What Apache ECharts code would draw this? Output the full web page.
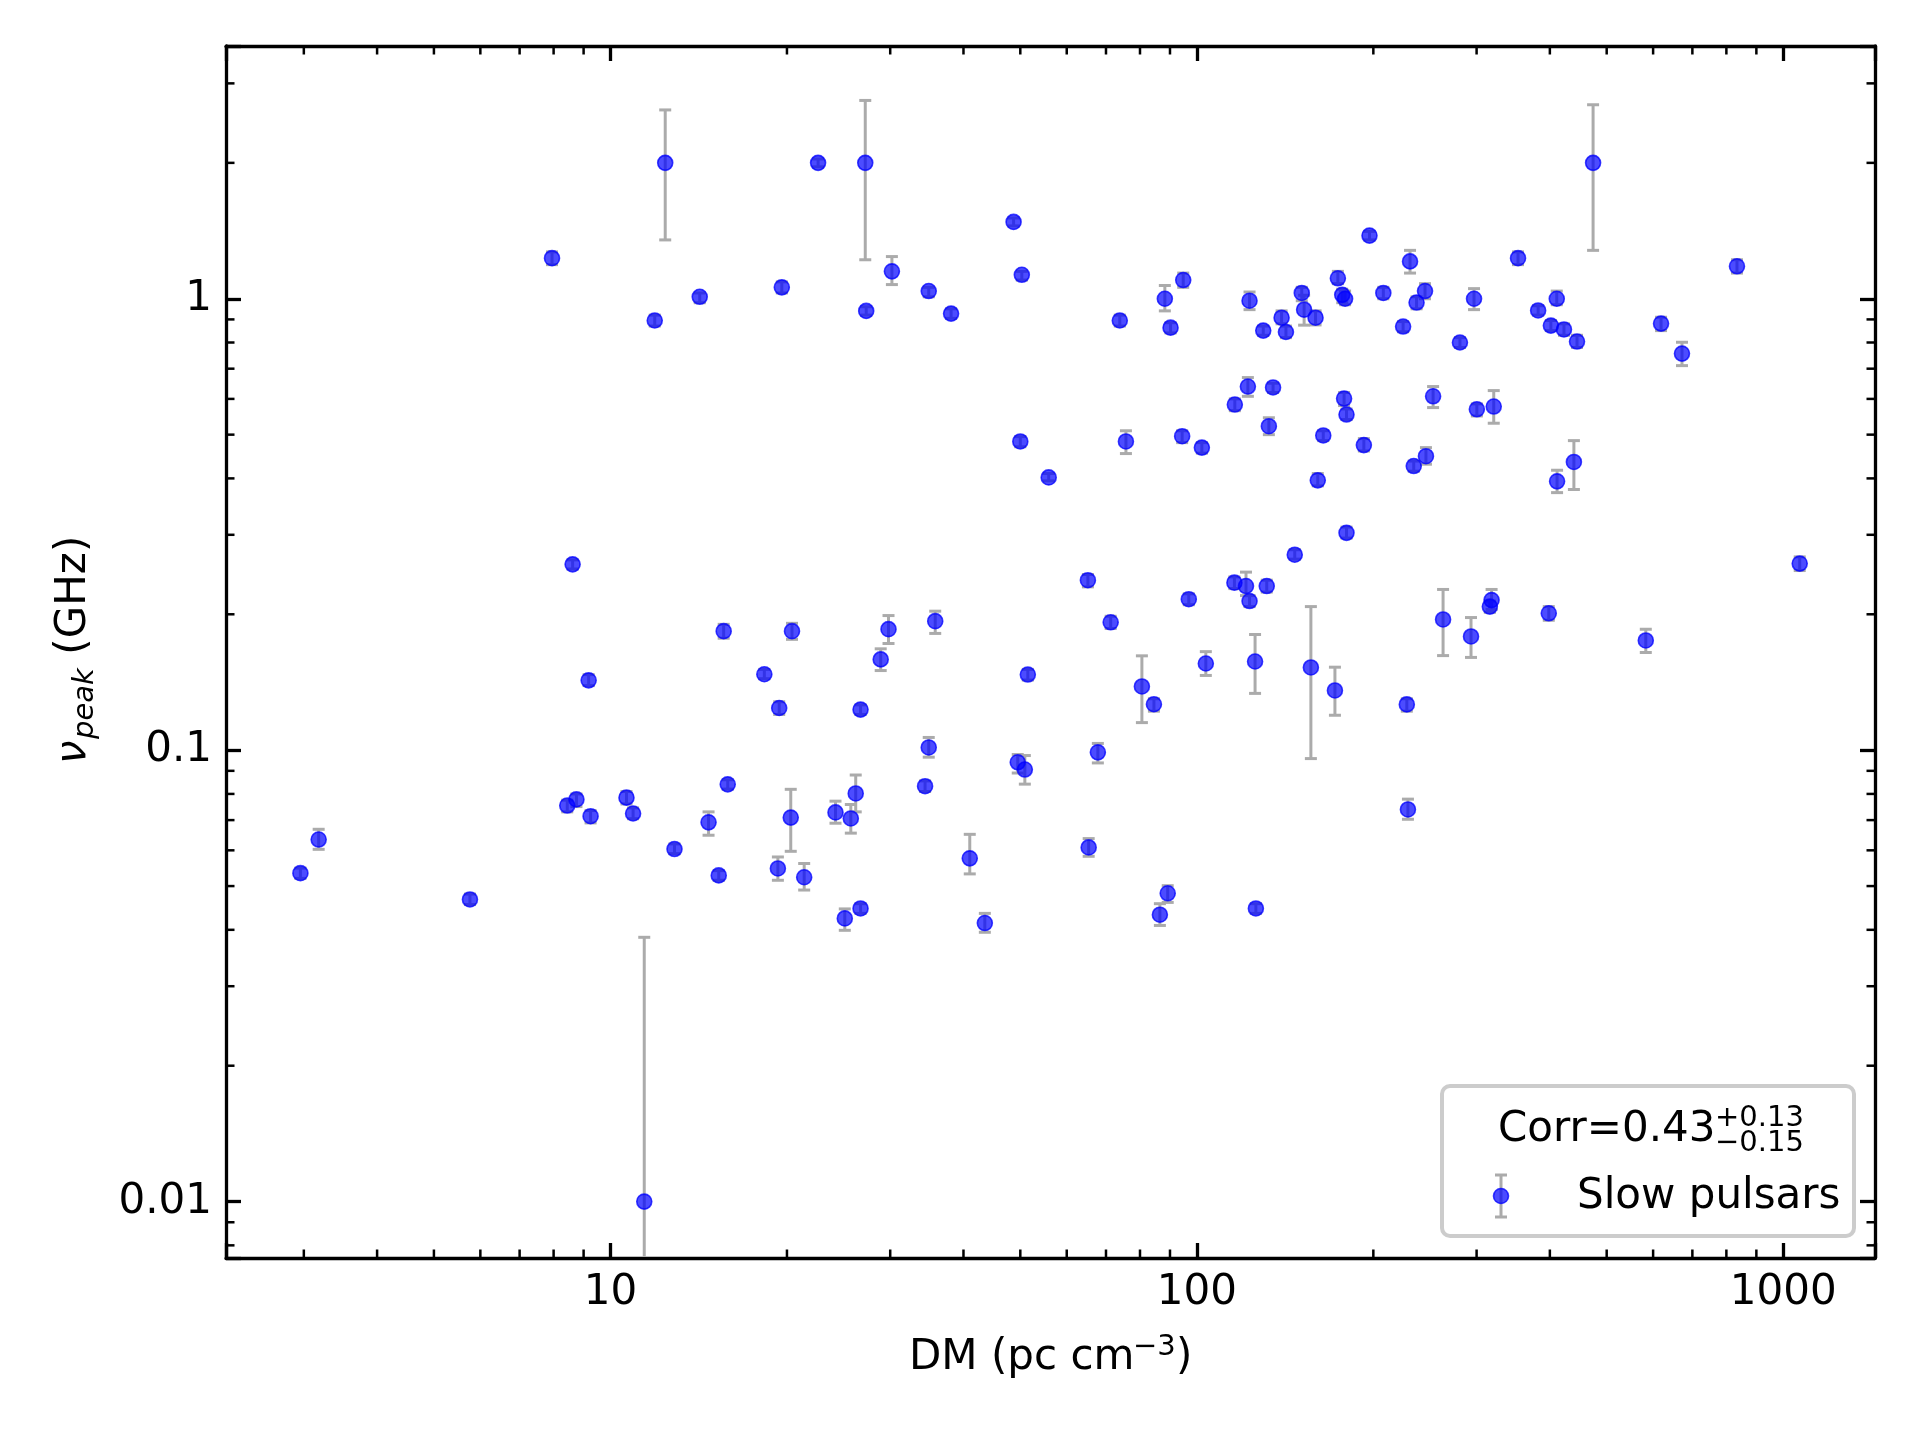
<!DOCTYPE html>
<html>
<head>
<meta charset="utf-8">
<script src="https://cdn.jsdelivr.net/npm/echarts@6/dist/echarts.min.js"></script>
<style>
html, body { margin: 0; background: #fff; }
#main { width: 1920px; height: 1440px; }
</style>
</head>
<body>
<div id="main"></div>
<script>
// DM (pc cm^-3) of each pulsar
var dm = [12.4, 22.6, 27.2, 474, 48.7, 197, 7.95, 353, 231, 834,
          30.2, 50.3, 94.8, 174, 34.9, 19.6, 151, 208, 245, 14.2,
          88.2, 123, 177, 179, 297, 411, 27.3, 382, 237, 38.1,
          11.9, 73.9, 139.5, 159.4, 619, 90.2, 129.8, 141.9, 152.4, 224.8,
          401.6, 422.8, 445, 281, 672, 122.2, 134.9, 116.1, 178.3, 252.9,
          300.3, 320.9, 180, 132.7, 164.3, 50.0, 75.7, 94.4, 102.0, 192.7,
          245.9, 234.4, 439.6, 411.5, 55.9, 160.8, 180, 146.9, 8.62, 1067,
          65.2, 115.9, 121.3, 131.6, 123, 96.9, 318.2, 316, 398.3, 71.3,
          15.6, 20.4, 29.8, 35.8, 263, 293.5, 583, 28.9, 103.6, 125.7,
          156.5, 9.18, 18.3, 51.5, 80.6, 172, 84.5, 19.4, 26.7, 228.1,
          34.9, 49.5, 50.9, 67.8, 34.4, 15.85, 26.2, 8.75, 8.44, 10.65,
          9.25, 10.93, 14.7, 20.3, 24.2, 25.7, 229.1, 3.18, 12.86, 65.4,
          41.0, 2.96, 15.3, 19.3, 21.4, 5.76, 89.2, 86.5, 126.1, 25.1,
          26.7, 43.5, 11.42];
// peak frequency (GHz)
var nuPeak = [2.0, 2.0, 2.0, 2.0, 1.48, 1.38, 1.23, 1.23, 1.21, 1.18,
          1.15, 1.13, 1.10, 1.11, 1.04, 1.06, 1.03, 1.03, 1.04, 1.01,
          1.0, 0.99, 1.02, 1.0, 1.0, 1.0, 0.94, 0.942, 0.981, 0.927,
          0.895, 0.895, 0.908, 0.908, 0.881, 0.863, 0.850, 0.844, 0.946, 0.868,
          0.872, 0.855, 0.804, 0.80, 0.756, 0.639, 0.636, 0.583, 0.601, 0.608,
          0.569, 0.577, 0.554, 0.522, 0.498, 0.483, 0.483, 0.496, 0.468, 0.474,
          0.448, 0.426, 0.435, 0.394, 0.402, 0.396, 0.303, 0.271, 0.258, 0.259,
          0.238, 0.235, 0.231, 0.231, 0.214, 0.216, 0.215, 0.208, 0.201, 0.192,
          0.1835, 0.1835, 0.1854, 0.1931, 0.1948, 0.1786, 0.175, 0.1589, 0.1556, 0.1572,
          0.1525, 0.1428, 0.1473, 0.1471, 0.1384, 0.1356, 0.1264, 0.124, 0.123, 0.1263,
          0.1014, 0.094, 0.0906, 0.0989, 0.0832, 0.084, 0.0802, 0.0778, 0.0754, 0.0785,
          0.0714, 0.0724, 0.0692, 0.0709, 0.0728, 0.0706, 0.0739, 0.0634, 0.0604, 0.0609,
          0.0576, 0.0534, 0.0528, 0.0547, 0.0523, 0.0467, 0.0482, 0.0432, 0.0446, 0.0424,
          0.0446, 0.0414, 0.01];
// lower / upper ends of the error bars (GHz)
var nuLow = [1.35, 1.96, 1.22, 1.28, 1.45, 1.35, 1.19, 1.19, 1.14, 1.14,
          1.075, 1.10, 1.06, 1.08, 1.01, 1.03, 0.99, 1.00, 1.00, 0.98,
          0.94, 0.946, 0.98, 0.97, 0.946, 0.97, 0.92, 0.92, 0.95, 0.905,
          0.87, 0.87, 0.88, 0.875, 0.85, 0.84, 0.83, 0.82, 0.874, 0.845,
          0.85, 0.83, 0.78, 0.78, 0.711, 0.608, 0.62, 0.565, 0.58, 0.574,
          0.55, 0.530, 0.54, 0.50, 0.485, 0.47, 0.454, 0.48, 0.455, 0.46,
          0.43, 0.415, 0.378, 0.372, 0.395, 0.385, 0.295, 0.265, 0.252, 0.25,
          0.23, 0.228, 0.22, 0.224, 0.208, 0.21, 0.205, 0.202, 0.194, 0.186,
          0.177, 0.176, 0.1723, 0.1814, 0.162, 0.1605, 0.1646, 0.1501, 0.1464, 0.1336,
          0.0958, 0.139, 0.144, 0.143, 0.1151, 0.1195, 0.122, 0.12, 0.12, 0.122,
          0.0965, 0.089, 0.0841, 0.0937, 0.081, 0.082, 0.073, 0.075, 0.073, 0.076,
          0.069, 0.0705, 0.0648, 0.0597, 0.0689, 0.0655, 0.0703, 0.0603, 0.059, 0.0582,
          0.0532, 0.052, 0.0515, 0.0515, 0.049, 0.0455, 0.046, 0.0409, 0.0435, 0.0399,
          0.0435, 0.0395, 0.001];
var nuHigh = [2.62, 2.04, 2.75, 2.69, 1.51, 1.41, 1.27, 1.27, 1.28, 1.22,
          1.24, 1.15, 1.14, 1.15, 1.06, 1.09, 1.06, 1.06, 1.08, 1.03,
          1.07, 1.035, 1.05, 1.04, 1.053, 1.04, 0.96, 0.965, 1.01, 0.95,
          0.92, 0.92, 0.94, 0.94, 0.91, 0.885, 0.87, 0.87, 1.018, 0.89,
          0.895, 0.88, 0.83, 0.82, 0.801, 0.669, 0.65, 0.60, 0.62, 0.639,
          0.585, 0.626, 0.57, 0.545, 0.51, 0.495, 0.510, 0.51, 0.48, 0.49,
          0.468, 0.437, 0.485, 0.417, 0.41, 0.41, 0.312, 0.278, 0.264, 0.268,
          0.245, 0.242, 0.248, 0.238, 0.22, 0.222, 0.227, 0.214, 0.208, 0.198,
          0.19, 0.191, 0.1987, 0.2032, 0.227, 0.1967, 0.1853, 0.1677, 0.1653, 0.1804,
          0.208, 0.147, 0.151, 0.151, 0.1618, 0.1527, 0.13, 0.128, 0.126, 0.13,
          0.1067, 0.0978, 0.0973, 0.1035, 0.0855, 0.086, 0.0881, 0.080, 0.0775, 0.081,
          0.0735, 0.0745, 0.073, 0.0819, 0.0771, 0.0758, 0.0779, 0.0668, 0.062, 0.0637,
          0.0651, 0.0548, 0.0541, 0.058, 0.0561, 0.048, 0.0501, 0.0457, 0.0457, 0.0445,
          0.0457, 0.0435, 0.0385];

var xTickLabels = {'10': '10', '100': '100', '1000': '1000'};
var yTickLabels = {'0.01': '0.01', '0.1': '0.1', '1': '1'};
var xMinorTicks = [3, 4, 5, 6, 7, 8, 9, 20, 30, 40, 50, 60, 70, 80, 90, 200, 300, 400, 500, 600, 700, 800, 900];
var yMinorTicks = [0.008, 0.009, 0.02, 0.03, 0.04, 0.05, 0.06, 0.07, 0.08, 0.09,
                   0.2, 0.3, 0.4, 0.5, 0.6, 0.7, 0.8, 0.9, 2, 3];

var FONT = 'DejaVu Sans';
var chart = echarts.init(document.getElementById('main'));

function decadeLabel(map) {
    return function (v) {
        var l = Math.log10(v);
        if (Math.abs(l - Math.round(l)) > 1e-6) return '';
        return map[String(Math.pow(10, Math.round(l)))] || '';
    };
}

function makeAxis(pos, labels, min, max) {
    return {
        type: 'log', logBase: 10, position: pos, min: min, max: max,
        splitLine: { show: false },
        axisLine: { show: true, lineStyle: { color: '#000', width: 3.3 } },
        axisTick: { show: true, inside: true, length: 15, lineStyle: { color: '#000', width: 3.3 } },
        minorTick: { show: false },
        axisLabel: labels ? {
            show: true, fontFamily: FONT, fontSize: 42, color: '#000', margin: 14,
            formatter: decadeLabel(labels)
        } : { show: false }
    };
}

var errData = dm.map(function (d, i) { return [d, nuLow[i], nuHigh[i]]; });
var pts = dm.map(function (d, i) { return [d, nuPeak[i]]; });

function renderErr(params, api) {
    var x = api.value(0);
    var cs = params.coordSys;
    var top = api.coord([x, api.value(2)]);
    var bot = api.coord([x, api.value(1)]);
    var st = { stroke: '#ababab', lineWidth: 3 };
    var cap = 6;
    var kids = [];
    var yb = Math.min(bot[1], cs.y + cs.height - 1.5);
    kids.push({ type: 'line', shape: { x1: top[0], y1: top[1], x2: bot[0], y2: yb }, style: st });
    kids.push({ type: 'line', shape: { x1: top[0] - cap, y1: top[1], x2: top[0] + cap, y2: top[1] }, style: st });
    if (bot[1] < cs.y + cs.height) {
        kids.push({ type: 'line', shape: { x1: bot[0] - cap, y1: bot[1], x2: bot[0] + cap, y2: bot[1] }, style: st });
    }
    return { type: 'group', children: kids };
}

function renderMinorX(params, api) {
    var p = api.coord([api.value(0), 1]);
    var cs = params.coordSys;
    var st = { stroke: '#000', lineWidth: 2.5 };
    return { type: 'group', children: [
        { type: 'line', shape: { x1: p[0], y1: cs.y + cs.height, x2: p[0], y2: cs.y + cs.height - 8.5 }, style: st },
        { type: 'line', shape: { x1: p[0], y1: cs.y, x2: p[0], y2: cs.y + 8.5 }, style: st }
    ] };
}

function renderMinorY(params, api) {
    var p = api.coord([10, api.value(1)]);
    var cs = params.coordSys;
    var st = { stroke: '#000', lineWidth: 2.5 };
    return { type: 'group', children: [
        { type: 'line', shape: { x1: cs.x, y1: p[1], x2: cs.x + 8.5, y2: p[1] }, style: st },
        { type: 'line', shape: { x1: cs.x + cs.width, y1: p[1], x2: cs.x + cs.width - 8.5, y2: p[1] }, style: st }
    ] };
}

var XMIN = 2.21, XMAX = 1434, YMIN = 0.0075, YMAX = 3.63;

function txt(x, y, s, font, z) {
    return { type: 'text', x: x, y: y, z: z || 10,
             style: { text: s, font: font, fill: '#000', align: 'left', verticalAlign: 'middle' } };
}

var option = {
    backgroundColor: '#fff',
    animation: false,
    grid: { left: 226, top: 46, width: 1649, height: 1212 },
    xAxis: [makeAxis('bottom', xTickLabels, XMIN, XMAX), makeAxis('top', null, XMIN, XMAX)],
    yAxis: [makeAxis('left', yTickLabels, YMIN, YMAX), makeAxis('right', null, YMIN, YMAX)],
    series: [
        {
            type: 'custom', name: 'err', renderItem: renderErr, data: errData,
            clip: true, z: 1, silent: true,
            encode: { x: 0, y: [1, 2] }
        },
        {
            type: 'scatter', name: 'Slow pulsars', data: pts, symbol: 'circle', symbolSize: 15,
            itemStyle: { color: 'rgba(0,0,255,0.7)', borderColor: 'rgba(0,0,255,0.75)', borderWidth: 1.6, opacity: 1 },
            z: 2, silent: true
        },
        {
            type: 'custom', renderItem: renderMinorX, z: 3, silent: true,
            data: xMinorTicks.map(function (v) { return [v, 1]; })
        },
        {
            type: 'custom', renderItem: renderMinorY, z: 3, silent: true,
            data: yMinorTicks.map(function (v) { return [10, v]; })
        }
    ],
    graphic: [
        // y axis label
        { type: 'group', x: 74, y: 651, rotation: Math.PI / 2, children: [
            txt(-113, 0, 'ν', 'italic 42px "DejaVu Sans"'),
            txt(-88, 11, 'peak', 'italic 29px "DejaVu Sans"'),
            txt(-17, 0, ' (GHz)', '42px "DejaVu Sans"')
        ] },
        // x axis label
        { type: 'group', x: 909, y: 1358, children: [
            txt(0, 0, 'DM (pc cm', '42px "DejaVu Sans"'),
            txt(224, -11, '−3', '29px "DejaVu Sans"'),
            txt(267, 0, ')', '42px "DejaVu Sans"')
        ] },
        // legend
        { type: 'rect', z: 100, shape: { x: 1442, y: 1086, width: 412, height: 150, r: 8 },
          style: { fill: 'rgba(255,255,255,0.8)', stroke: '#cccccc', lineWidth: 4 } },
        txt(1498, 1130, 'Corr=0.43', '42px "DejaVu Sans"', 110),
        txt(1715, 1118, '+0.13', '29px "DejaVu Sans"', 110),
        txt(1715, 1143, '−0.15', '29px "DejaVu Sans"', 110),
        { type: 'line', z: 110, shape: { x1: 1501, y1: 1175, x2: 1501, y2: 1217 }, style: { stroke: '#ababab', lineWidth: 3 } },
        { type: 'line', z: 110, shape: { x1: 1495, y1: 1175, x2: 1507, y2: 1175 }, style: { stroke: '#ababab', lineWidth: 3 } },
        { type: 'line', z: 110, shape: { x1: 1495, y1: 1217, x2: 1507, y2: 1217 }, style: { stroke: '#ababab', lineWidth: 3 } },
        { type: 'circle', z: 111, shape: { cx: 1501, cy: 1196, r: 7.5 },
          style: { fill: 'rgba(0,0,255,0.7)', stroke: 'rgba(0,0,255,0.75)', lineWidth: 1.6 } },
        txt(1577, 1197, 'Slow pulsars', '42px "DejaVu Sans"', 110)
    ]
};

chart.setOption(option);
</script>
</body>
</html>
